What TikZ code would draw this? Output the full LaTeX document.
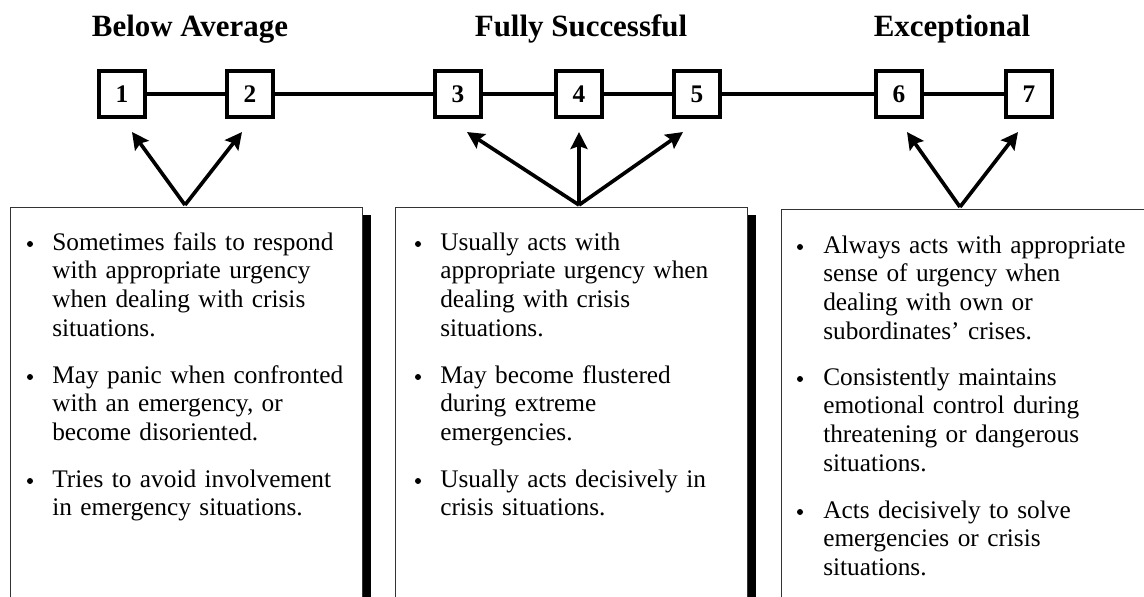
\documentclass[tikz,border=0pt]{standalone}
\usepackage{fontspec}
\setmainfont{Liberation Serif}
\usetikzlibrary{arrows.meta,positioning}

\begin{document}
\begin{tikzpicture}[x=0.025cm,y=-0.025cm,
    grade/.style={draw,line width=2.6pt,minimum size=1.16cm,inner sep=0pt,
      font=\bfseries\fontsize{18}{20}\selectfont},
    level/.style={anchor=base,font=\bfseries\fontsize{22}{24}\selectfont},
    link/.style={line width=2.8pt},
    panel/.style={draw=black!80,line width=0.7pt,anchor=north west,
      minimum height=10cm,inner sep=0pt},
    pointer/.style={-{Stealth[length=12pt,width=12pt,inset=2pt]},line width=2.6pt},
    dot/.style={circle,fill,inner sep=0pt,minimum size=0.15cm},
    item/.style={anchor=base west,text width=8cm,align=left,inner sep=0pt,
      font=\fontsize{18}{20.6}\selectfont}]
    \useasboundingbox[fill=white] (0,0) rectangle (1144,597);
    \clip (0,0) rectangle (1144,597);

    % rating scale
    \node[level] (lowT)  at (190,37) {Below Average};
    \node[level] (midT)  at (581,37) {Fully Successful};
    \node[level] (highT) at (952,37) {Exceptional};

    \node[grade] (g1) at (122,94)  {1};
    \node[grade] (g2) at (250,94)  {2};
    \node[grade] (g3) at (458,94)  {3};
    \node[grade] (g4) at (579,94)  {4};
    \node[grade] (g5) at (697,94)  {5};
    \node[grade] (g6) at (899,94)  {6};
    \node[grade] (g7) at (1029,94) {7};
    \draw[link] (g1) -- (g2) -- (g3) -- (g4) -- (g5) -- (g6) -- (g7);

    % description panels
    \node[panel,minimum width=8.8cm] (panelA) at (10,207)  {};
    \node[panel,minimum width=8.8cm] (panelB) at (395,207) {};
    \node[panel,minimum width=9.5cm] (panelC) at (781,209) {};
    \fill ([shift={(0,8)}]panelA.north east) rectangle ++(8,400);
    \fill ([shift={(0,8)}]panelB.north east) rectangle ++(8,400);

    \coordinate (apexA) at (185,205);
    \coordinate (apexB) at (579,205);
    \coordinate (apexC) at (960,207);
    \draw[pointer] (apexA) -- ([shift={(10,13)}]g1.south);
    \draw[pointer] (apexA) -- ([shift={(-8,13)}]g2.south);
    \draw[pointer] (apexB) -- ([shift={(9,13)}]g3.south);
    \draw[pointer] (apexB) -- ([shift={(0,13)}]g4.south);
    \draw[pointer] (apexB) -- ([shift={(-14,13)}]g5.south);
    \draw[pointer] (apexC) -- ([shift={(8,13)}]g6.south);
    \draw[pointer] (apexC) -- ([shift={(-11,13)}]g7.south);

    % below average
    \node[dot] (dA1) at (30,244) {};
    \node[item] (iA1) at (52,250) {Sometimes fails to respond\\with appropriate urgency\\when dealing with crisis\\situations.};
    \node[dot] (dA2) at (30,377) {};
    \node[item] (iA2) at (52,383) {May panic when confronted\\with an emergency, or\\become disoriented.};
    \node[dot] (dA3) at (30,481) {};
    \node[item] (iA3) at (52,487) {Tries to avoid involvement\\in emergency situations.};

    % fully successful
    \node[dot] (dB1) at (418,244) {};
    \node[item] (iB1) at (440,250) {Usually acts with\\appropriate urgency when\\dealing with crisis\\situations.};
    \node[dot] (dB2) at (418,377) {};
    \node[item] (iB2) at (440,383) {May become flustered\\during extreme\\emergencies.};
    \node[dot] (dB3) at (418,481) {};
    \node[item] (iB3) at (440,487) {Usually acts decisively in\\crisis situations.};

    % exceptional
    \node[dot] (dC1) at (800,247) {};
    \node[item] (iC1) at (823,253) {Always acts with appropriate\\sense of urgency when\\dealing with own or\\subordinates’ crises.};
    \node[dot] (dC2) at (800,379) {};
    \node[item] (iC2) at (823,385) {Consistently maintains\\emotional control during\\threatening or dangerous\\situations.};
    \node[dot] (dC3) at (800,512) {};
    \node[item] (iC3) at (823,518) {Acts decisively to solve\\emergencies or crisis\\situations.};
\end{tikzpicture}
\end{document}
